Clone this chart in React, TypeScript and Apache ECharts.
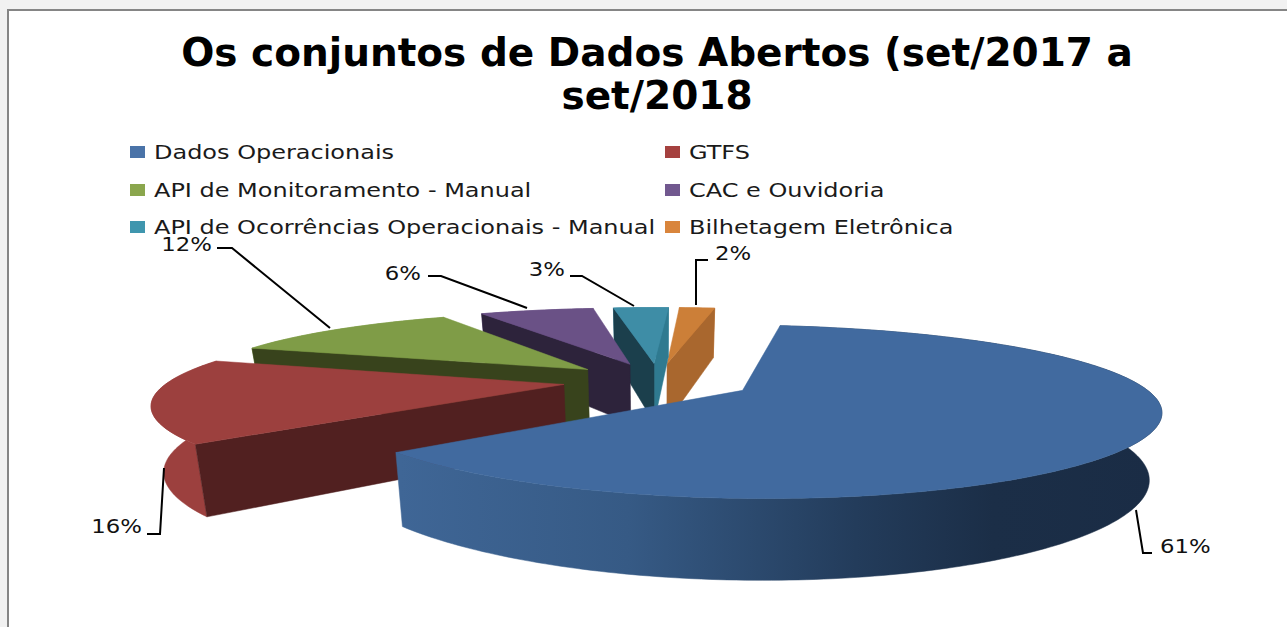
import React, { useEffect, useRef } from "react";
import * as echarts from "echarts";

const categories = ["Dados Operacionais", "GTFS", "API de Monitoramento - Manual", "CAC e Ouvidoria", "API de Ocorrências Operacionais - Manual", "Bilhetagem Eletrônica"];
const values = [61.4, 16.3, 11.9, 5.8, 2.8, 1.8];
const topColors = ["#416a9f", "#9c403e", "#7f9c47", "#6a5186", "#3e8da6", "#cc7f38"];
const startFaceColors = ["#1a2c45", "#512020", "#38431c", "#2d233b", "#1b3f4c", "#6e4420"];
const endFaceColors = ["#2c4a6e", "#6e2a29", "#55692f", "#47365a", "#2f7a90", "#a9672e"];
const legendColors = ["#4a73a8", "#a5413f", "#8aa64d", "#71588f", "#3f96ae", "#d9853c"];
const leaders = [
  [[1152, 553], [1143, 553], [1136, 510]],
  [[147, 534], [160, 534], [164, 468]],
  [[217, 248], [232, 248], [330, 328]],
  [[428, 276], [441, 276], [527, 308]],
  [[570, 276], [582, 276], [634, 306]],
  [[708, 260], [696, 260], [696, 305]],
];
const labelPos = [[1160, 547], [142, 527], [212, 245], [421, 274], [565, 270], [715, 254]];
const labelAlign = ["left", "right", "right", "right", "right", "left"];
const legendCols = [130, 665];
const legendRows = [152, 190, 227];

const START = 9, EXPLODE = 0.24, P = 0.24, PX = 0.21, RX = 395, RY = 76.9, X0 = 658, Y0 = 381, DEPTH = 62, SHRINK = 0.975;
const rad = (d: number) => (d * Math.PI) / 180;
const total = values.reduce((a, b) => a + b, 0);

function top(u: number, v: number) {
  return [X0 + (RX * u) / (1 - PX * v), Y0 + (RY * v) / (1 - P * v)];
}
function bottom(u: number, v: number) {
  const [x, y] = top(u, v);
  return [X0 + (x - X0) * SHRINK, Y0 + (y - Y0) * SHRINK + DEPTH / (1 - P * v)];
}

function sliceItem(i: number) {
  const before = values.slice(0, i).reduce((a, b) => a + b, 0);
  const a0 = START + (before / total) * 360;
  const a1 = a0 + (values[i] / total) * 360;
  const m = rad((a0 + a1) / 2);
  const au = EXPLODE * Math.sin(m), av = -EXPLODE * Math.cos(m);
  const n = Math.max(4, Math.round(a1 - a0));
  const uv: number[][] = [];
  for (let k = 0; k <= n; k++) {
    const t = rad(a0 + ((a1 - a0) * k) / n);
    uv.push([au + Math.sin(t), av - Math.cos(t)]);
  }
  const topArc = uv.map(([u, v]) => top(u, v));
  const botArc = uv.map(([u, v]) => bottom(u, v));
  const aT = top(au, av), aB = bottom(au, av);
  const sT = topArc[0], sB = botArc[0], eT = topArc[n], eB = botArc[n];
  const shape = (points: number[][], fill: any) => ({
    type: "polygon",
    shape: { points },
    style: { fill, stroke: fill, lineWidth: 0.5 },
    silent: true,
  });
  const wallFill: any = i === 0
    ? new echarts.graphic.LinearGradient(400, 0, 1160, 0, [
        { offset: 0, color: "#3f6696" },
        { offset: 0.3, color: "#365a85" },
        { offset: 0.6, color: "#233c5b" },
        { offset: 0.78, color: "#1b2e47" },
        { offset: 1, color: "#1a2c45" },
      ], true)
    : topColors[i];
  const children: any[] = [shape([...topArc, ...botArc.slice().reverse()], wallFill)];
  if (eT[0] > aT[0]) children.push(shape([aT, eT, eB, aB], endFaceColors[i]));
  if (sT[0] < aT[0]) children.push(shape([aT, sT, sB, aB], startFaceColors[i]));
  children.push(shape([aT, ...topArc], topColors[i]));
  children.push({
    type: "polyline",
    shape: { points: leaders[i] },
    style: { fill: "none", stroke: "#000", lineWidth: 2 },
    silent: true,
  });
  children.push({
    type: "text",
    x: labelPos[i][0],
    y: labelPos[i][1],
    scaleX: 1.2,
    style: {
      text: `${Math.round(values[i])}%`,
      fill: "#111",
      font: '19px "DejaVu Sans"',
      align: labelAlign[i],
      verticalAlign: "middle",
    },
    silent: true,
  });
  return { type: "group", children };
}

function legendItems() {
  const out: any[] = [];
  categories.forEach((name, i) => {
    const x = legendCols[i % 2];
    const y = legendRows[Math.floor(i / 2)];
    out.push({
      type: "rect",
      shape: { x, y: y - 6, width: 15, height: 12 },
      style: { fill: legendColors[i] },
      silent: true,
    });
    out.push({
      type: "text",
      x: x + 24,
      y,
      scaleX: 1.23,
      style: { text: name, fill: "#1a1a1a", font: '19.5px "DejaVu Sans"', align: "left", verticalAlign: "middle" },
      silent: true,
    });
  });
  return out;
}

export default function App() {
  const ref = useRef<HTMLDivElement>(null);
  useEffect(() => {
    document.body.style.margin = "0";
    const chart = echarts.init(ref.current!, undefined, { renderer: "svg" });
    chart.setOption({
      animation: false,
      backgroundColor: "#f1f1f1",
      title: {
        text: "Os conjuntos de Dados Abertos (set/2017 a\nset/2018",
        left: 652,
        top: 26,
        textAlign: "center",
        textStyle: { fontFamily: "DejaVu Sans", fontWeight: "bold", fontSize: 39, lineHeight: 43, color: "#000" },
      },
      graphic: [
        {
          type: "rect",
          z: -10,
          shape: { x: 8, y: 10, width: 1400, height: 800 },
          style: { fill: "#fff", stroke: "#858585", lineWidth: 2 },
          silent: true,
        },
        { type: "group", z: 20, children: legendItems() },
      ],
      series: categories.map((name, i) => ({
        type: "custom",
        name,
        coordinateSystem: "none",
        z: 10 - i,
        itemStyle: { color: legendColors[i] },
        data: [values[i]],
        renderItem: () => sliceItem(i),
      })),
    });
    return () => chart.dispose();
  }, []);
  return <div ref={ref} style={{ width: 1287, height: 627 }} />;
}
